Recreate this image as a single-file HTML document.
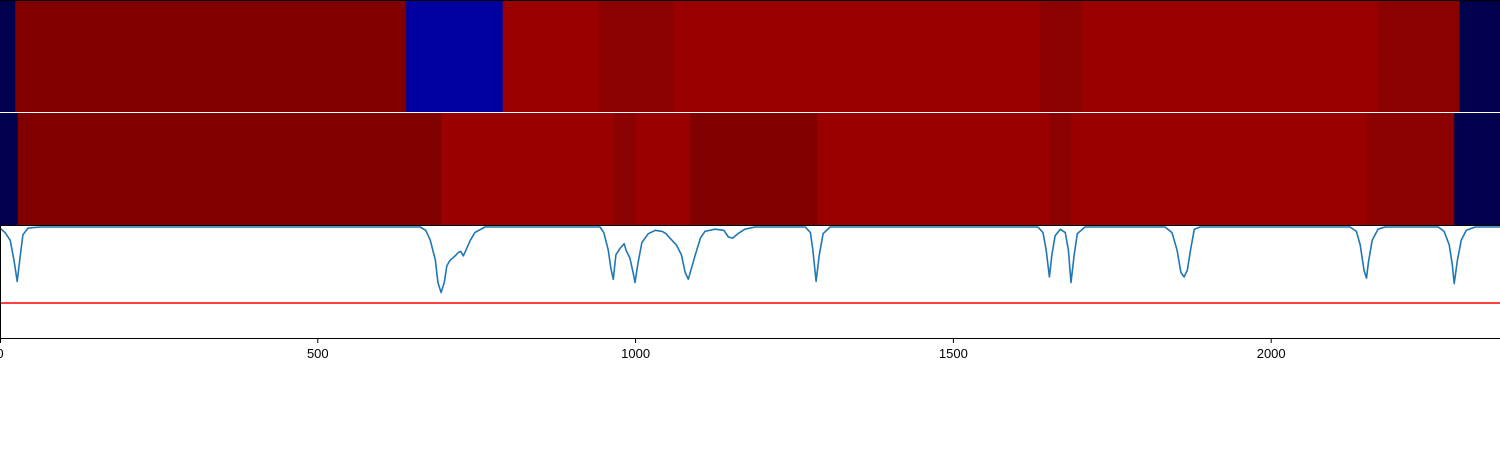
<!DOCTYPE html>
<html><head><meta charset="utf-8">
<style>
html,body{margin:0;padding:0;background:#fff;width:1500px;height:450px;overflow:hidden}
svg{display:block;font-family:"Liberation Sans","DejaVu Sans",sans-serif}
</style></head>
<body>
<svg id="chart" width="1500" height="450" viewBox="0 0 1500 450" xmlns="http://www.w3.org/2000/svg">
  <g id="row1"></g>
  <g id="row2"></g>
  <g id="plot"></g>
  <g id="xaxis"></g>
</svg>
<script>
const xMax = 2360;
const row1Edges = [0,24,639,791,943,1059,1637,1701,2167,2296,2360];
const row1Values = [0,1.0,0.117,0.946,0.977,0.946,0.977,0.946,0.977,0];
const row2Edges = [0,28,694,966,1001,1086,1286,1652,1685,2151,2288,2360];
const row2Values = [0,1.0,0.946,0.977,0.946,1.0,0.946,0.977,0.946,0.977,0];
const lineX = [0,8,16,22,27,31,36,44,63,
 661,670,677,685,689,694,699,703,708,716,721,725,729,733,740,747,763,
 944,950,957,961,965,969,976,982,985,991,996,999,1004,1010,1020,1031,1042,1048,1054,1064,1072,1078,1083,1087,1094,1102,1109,1125,1139,1146,1153,1161,1172,1188,1267,1275,1279,1284,1289,1295,1306,
 1633,1641,1646,1651,1655,1660,1668,1676,1681,1685,1690,1695,1707,
 1833,1844,1852,1858,1863,1868,1873,1879,1888,
 2124,2134,2140,2146,2150,2153,2159,2168,2179,
 2263,2272,2280,2285,2288,2293,2299,2307,2321,2360];
const lineV = [0.99,0.95,0.88,0.70,0.51,0.70,0.93,0.99,1.0,
 1.0,0.97,0.88,0.70,0.50,0.41,0.50,0.65,0.70,0.74,0.77,0.78,0.74,0.79,0.88,0.95,1.0,
 1.0,0.95,0.79,0.63,0.53,0.75,0.81,0.85,0.79,0.72,0.59,0.50,0.68,0.86,0.94,0.97,0.96,0.94,0.90,0.84,0.75,0.59,0.53,0.61,0.75,0.90,0.96,0.98,0.97,0.91,0.90,0.94,0.98,1.0,1.0,0.95,0.79,0.51,0.75,0.94,1.0,
 1.0,0.95,0.79,0.55,0.75,0.92,0.98,0.95,0.79,0.50,0.75,0.94,1.0,
 1.0,0.95,0.79,0.59,0.55,0.61,0.79,0.98,1.0,
 1.0,0.96,0.84,0.61,0.54,0.68,0.88,0.98,1.0,
 1.0,0.96,0.84,0.66,0.49,0.70,0.88,0.97,1.0,1.0];
const threshold = 0.315;
const xTicks = [0,500,1000,1500,2000];

const NS="http://www.w3.org/2000/svg";
const W=1500;
const sx = v => v/xMax*W;
const sy = v => 338 - v*111;
function seismic(v){
  const st=[[0,[0,0,0.3]],[0.25,[0,0,1]],[0.5,[1,1,1]],[0.75,[1,0,0]],[1,[0.5,0,0]]];
  for(let i=0;i<st.length-1;i++){const [a,ca]=st[i],[b,cb]=st[i+1];
    if(v<=b){const t=(v-a)/(b-a);return 'rgb('+ca.map((c,k)=>Math.round((c+(cb[k]-c)*t)*255)).join(',')+')';}}
  return 'rgb(128,0,0)';
}
function mk(tag,attrs,parent){const e=document.createElementNS(NS,tag);for(const k in attrs)e.setAttribute(k,attrs[k]);parent.appendChild(e);return e;}
function drawRow(g,edges,vals,y0,h,name){
  for(let i=0;i<vals.length;i++){
    const x0=sx(edges[i]),x1=sx(edges[i+1]);
    const r=mk('rect',{x:x0,y:y0,width:x1-x0+0.5,height:h,fill:seismic(vals[i])},g);
    
    
  }
}
drawRow(document.getElementById('row1'),row1Edges,row1Values,0,112,'row1');
drawRow(document.getElementById('row2'),row2Edges,row2Values,113,112,'row2');
const topBorder=mk('line',{x1:0,y1:0.5,x2:W,y2:0.5,stroke:'#000','stroke-width':1},document.getElementById('row1'));



const plot=document.getElementById('plot');
const sep=mk('line',{x1:0,y1:225.5,x2:W,y2:225.5,stroke:'#000','stroke-width':1},plot);


const th=mk('line',{x1:0,y1:sy(threshold),x2:W,y2:sy(threshold),stroke:'#ff0000','stroke-width':1.5},plot);


const d=lineX.map((x,i)=>(i?'L':'M')+sx(x).toFixed(1)+','+sy(lineV[i]).toFixed(1)).join(' ');
const p=mk('path',{d:d,fill:'none',stroke:'#1f77b4','stroke-width':1.6,'stroke-linejoin':'round'},plot);



const ax=document.getElementById('xaxis');
const sp=mk('line',{x1:0,y1:338.5,x2:W,y2:338.5,stroke:'#000','stroke-width':1},ax);


const ls=mk('line',{x1:0.5,y1:226,x2:0.5,y2:339,stroke:'#000','stroke-width':1},ax);


xTicks.forEach(t=>{
  const x=Math.max(0.5,sx(t));
  const tk=mk('line',{x1:x,y1:338,x2:x,y2:343,stroke:'#000','stroke-width':1},ax);
  
  
  const tx=mk('text',{x:sx(t),y:358,'text-anchor':'middle','font-size':13,fill:'#000'},ax);
  tx.textContent=t;
  
  
});
</script>
</body></html>
